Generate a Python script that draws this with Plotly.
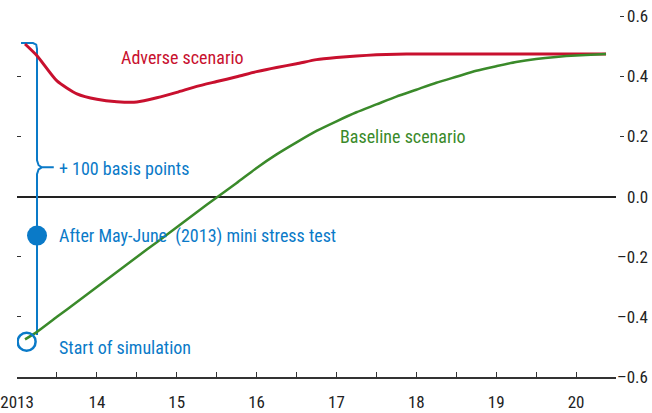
import plotly.graph_objects as go

# ---- data ----
years = [2013.1, 2013.25, 2013.5, 2013.75, 2014.0, 2014.25, 2014.5, 2014.75,
         2015.0, 2015.25, 2015.5, 2015.75, 2016.0, 2016.25, 2016.5, 2016.75,
         2017.0, 2017.25, 2017.5, 2017.75, 2018.0, 2018.25, 2018.5, 2018.75,
         2019.0, 2019.25, 2019.5, 2019.75, 2020.0, 2020.25, 2020.375]
adverse = [0.507, 0.468, 0.384, 0.341, 0.323, 0.315, 0.314, 0.328,
           0.346, 0.366, 0.382, 0.398, 0.415, 0.429, 0.441, 0.455,
           0.462, 0.467, 0.471, 0.473, 0.474, 0.474, 0.474, 0.474,
           0.474, 0.474, 0.474, 0.474, 0.474, 0.474, 0.474]
baseline = [-0.475, -0.45, -0.40, -0.351, -0.301, -0.251, -0.201, -0.152,
            -0.102, -0.052, -0.003, 0.045, 0.095, 0.14, 0.18, 0.218,
            0.25, 0.28, 0.306, 0.332, 0.355, 0.378, 0.398, 0.418,
            0.433, 0.447, 0.457, 0.464, 0.469, 0.472, 0.474]

x_tickvals = [2013, 2013.5, 2014, 2014.5, 2015, 2015.5, 2016, 2016.5, 2017,
              2017.5, 2018, 2018.5, 2019, 2019.5, 2020, 2020.5]
x_ticktext = ["2013", "", "14", "", "15", "", "16", "", "17", "", "18", "",
              "19", "", "20", ""]
y_tickvals = [0.6, 0.4, 0.2, 0.0, -0.2, -0.4, -0.6]
y_ticktext = ["0.6", "0.4", "0.2", "0.0", "\u20130.2", "\u20130.4", "\u20130.6"]
y_dash_vals = [0.6, 0.4, 0.2, -0.2, -0.4]

# annotation points
start_point = (2013.12, -0.483)
stress_point = (2013.25, -0.13)
bracket_x = [2013.05, 2013.2, 2013.24, 2013.25, 2013.25, 2013.27, 2013.31, 2013.46,
             2013.31, 2013.27, 2013.25, 2013.25]
bracket_y = [0.51, 0.51, 0.505, 0.49, 0.12, 0.104, 0.097, 0.097,
             0.097, 0.09, 0.074, -0.46]

RED = "#C8102E"
GREEN = "#3A8A2A"
BLUE = "#0A7AC8"
FONT = "Liberation Sans Narrow, Arial Narrow, Roboto Condensed, Liberation Sans, sans-serif"

fig = go.Figure()
fig.add_trace(go.Scatter(x=bracket_x, y=bracket_y, mode="lines",
                         line=dict(color=BLUE, width=2), hoverinfo="skip",
                         showlegend=False))
fig.add_trace(go.Scatter(x=years, y=adverse, mode="lines",
                         line=dict(color=RED, width=3, shape="spline", smoothing=0.6),
                         showlegend=False))
fig.add_trace(go.Scatter(x=years, y=baseline, mode="lines",
                         line=dict(color=GREEN, width=2.5, shape="spline", smoothing=0.6),
                         showlegend=False))
fig.add_trace(go.Scatter(x=[stress_point[0]], y=[stress_point[1]], mode="markers",
                         marker=dict(color=BLUE, size=20), showlegend=False))
fig.add_trace(go.Scatter(x=[start_point[0]], y=[start_point[1]], mode="markers",
                         marker=dict(color=BLUE, size=18, symbol="circle-open",
                                     line=dict(width=2.5, color=BLUE)),
                         showlegend=False))
# invisible trace for right dash axis
fig.add_trace(go.Scatter(x=[2014], y=[0], yaxis="y2", mode="markers",
                         marker=dict(opacity=0), hoverinfo="skip", showlegend=False))

W, H = 652, 413
ml, mr, mt, mb = 17, 10, 16, 36
pw = W - ml - mr

fig.update_layout(
    width=W, height=H,
    margin=dict(l=ml, r=mr, t=mt, b=mb, autoexpand=False),
    paper_bgcolor="white", plot_bgcolor="white",
    font=dict(family=FONT, size=18, color="#222"),
    xaxis=dict(domain=[0, 599 / pw], range=[2012.9995, 2020.5],
               tickvals=x_tickvals, ticktext=x_ticktext, automargin=False,
               ticks="inside", ticklen=5, tickwidth=1.2, tickcolor="#333",
               showline=True, linecolor="#333", linewidth=1.5,
               showgrid=False, zeroline=False, ticklabelstandoff=9,
               ticklabeloverflow="allow",
               tickfont=dict(family=FONT, size=17, color="#222")),
    yaxis=dict(range=[-0.6, 0.6], tickvals=y_dash_vals, automargin=False,
               ticks="inside", ticklen=4, tickwidth=1.2, tickcolor="#333",
               showticklabels=False, showgrid=False, showline=False,
               zeroline=True, zerolinecolor="#222", zerolinewidth=1.5),
    yaxis2=dict(range=[-0.6, 0.6], overlaying="y", side="right", anchor="free",
                position=(619 - ml) / pw, tickvals=y_dash_vals, automargin=False,
                ticks="outside", ticklen=4, tickwidth=1.2, tickcolor="#333",
                showticklabels=False, showgrid=False, showline=False,
                zeroline=False),
)

for v, t in zip(y_tickvals, y_ticktext):
    fig.add_annotation(x=(650 - ml) / pw, xref="paper", y=v, yref="y",
                       text=t, showarrow=False, xanchor="right", yanchor="middle",
                       font=dict(family=FONT, size=17, color="#222"))

labels = [
    ("Adverse scenario", 2014.28, 0.463, RED),
    ("Baseline scenario", 2017.02, 0.2, GREEN),
    ("+ 100 basis points", 2013.5, 0.093, BLUE),
    ("After May-June\u00a0 (2013) mini stress test", 2013.5, -0.13, BLUE),
    ("Start of simulation", 2013.5, -0.503, BLUE),
]
for t, x, y, c in labels:
    fig.add_annotation(x=x, y=y, text=t, showarrow=False, xanchor="left",
                       yanchor="middle", font=dict(family=FONT, size=18, color=c))

fig.write_html("out.html", config={"displayModeBar": False},
               post_script="document.body.style.margin='0';document.body.style.padding='0';")
